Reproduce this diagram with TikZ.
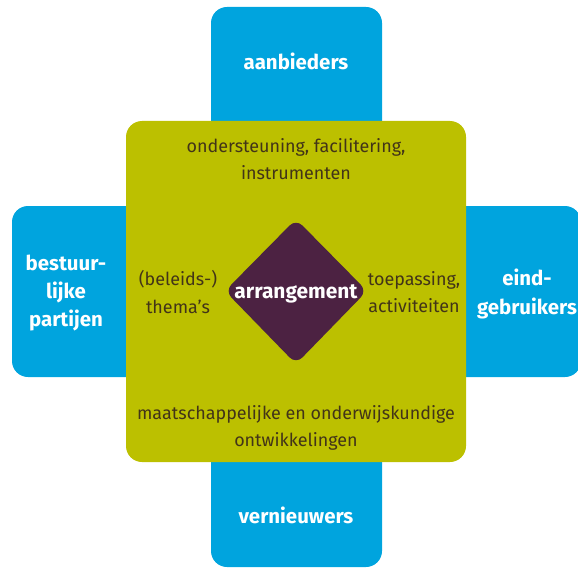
\documentclass[tikz,border=0pt]{standalone}
\usepackage{fontspec}
\setmainfont{Fira Sans}
\definecolor{cblue}{RGB}{0,164,222}
\definecolor{cgreen}{RGB}{188,192,0}
\definecolor{cpurple}{RGB}{76,34,66}
\definecolor{ctext}{RGB}{66,52,24}
\tikzset{
  bluebox/.style={fill=cblue, rounded corners=16bp},
  greenbox/.style={fill=cgreen, rounded corners=16bp},
  bluelabel/.style={text=white, font=\bfseries\fontsize{20.5}{28.5}\selectfont, align=center, inner sep=0pt},
  greenlabel/.style={text=ctext, font=\fontsize{18}{27.5}\selectfont, align=center, inner sep=0pt},
}
\begin{document}
\begin{tikzpicture}[x=1bp,y=-1bp]
\useasboundingbox (0,0) rectangle (578,573);
% blue arms
\fill[bluebox] (211,7) rectangle (382,250);
\fill[bluebox] (211,330) rectangle (382,567);
\fill[bluebox] (12,206) rectangle (250,377);
\fill[bluebox] (340,206) rectangle (581,377);
% green square
\fill[greenbox] (126,121) rectangle (466,462);
% diamond
\fill[cpurple, rounded corners=9bp] (296,219) -- (367,291) -- (296,364) -- (225,291) -- cycle;
% labels
\node[bluelabel] (aan) at (296,61) {aanbieders};
\node[bluelabel] (ver) at (296,515) {vernieuwers};
\node[bluelabel] (bes) at (66,293) {bestuur-\\lijke\\partijen};
\node[bluelabel] (ein) at (527,294) {eind-\\gebruikers};
\node[greenlabel] (ond) at (296,159) {ondersteuning, facilitering,\\instrumenten};
\node[greenlabel] (bel) at (178,292) {(beleids-)\\thema's};
\node[greenlabel] (toe) at (414,292) {toepassing,\\activiteiten};
\node[greenlabel] (maa) at (296,428) {maatschappelijke en onderwijskundige\\ontwikkelingen};
\node[bluelabel, font=\bfseries\fontsize{21}{24}\selectfont] (arr) at (296,294) {arrangement};
\end{tikzpicture}
\end{document}
